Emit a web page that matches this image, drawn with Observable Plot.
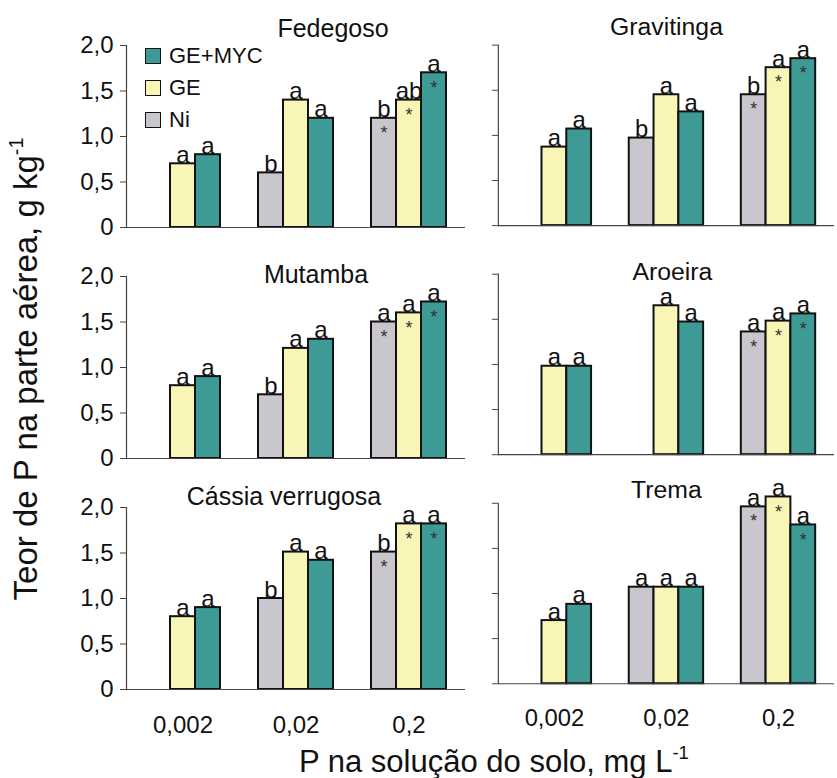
<!DOCTYPE html>
<html>
<head>
<meta charset="utf-8">
<script src="https://cdn.jsdelivr.net/npm/d3@7"></script>
<script src="https://cdn.jsdelivr.net/npm/@observablehq/plot@0.6"></script>
<style>
  body { margin: 0; background: #fff; }
  #chart { position: relative; width: 837px; height: 778px; overflow: hidden; background: #fff;
           font-family: "Liberation Sans", Arial, sans-serif; color: #111; }
  #left, #right { position: absolute; top: 0; }
  #left { left: 0; }
  #right { left: 480px; }
  .ytitle { position: absolute; left: 26px; top: 369px; transform: translate(-50%, -50%) rotate(-90deg);
            white-space: nowrap; font-size: 33px; }
  .xtitle { position: absolute; left: 494px; top: 762px; transform: translate(-50%, -50%);
            white-space: nowrap; font-size: 31px; }
  sup { font-size: 0.6em; vertical-align: 0.7em; line-height: 0; }
  .legend { position: absolute; left: 145px; top: 46px; font-size: 22px; }
  .legend .row { position: absolute; left: 0; display: flex; align-items: center; white-space: nowrap; height: 20px; }
  .legend .sw { width: 14px; height: 14px; border: 1.8px solid #111; margin-right: 8px; }
</style>
</head>
<body>
<div id="chart">
  <div id="left"></div>
  <div id="right"></div>
  <div class="ytitle">Teor de P na parte aérea, g kg<sup>-1</sup></div>
  <div class="xtitle">P na solução do solo, mg L<sup>-1</sup></div>
  <div class="legend" id="legend"></div>
</div>
<script>
// ---------- data ----------
const pLevels = ["0,002", "0,02", "0,2"];
const treatments = ["Ni", "GE", "GE+MYC"];
const legendOrder = ["GE+MYC", "GE", "Ni"];
const leftSpecies = ["Fedegoso", "Mutamba", "Cássia verrugosa"];
const rightSpecies = ["Gravitinga", "Aroeira", "Trema"];
const yTicks = [0, 0.5, 1, 1.5, 2];

// P content (g kg-1): rows = P levels, columns = Ni, GE, GE+MYC (null = no bar)
const fedegoso   = [[null, 0.70, 0.80], [0.60, 1.40, 1.20], [1.20, 1.40, 1.70]];
const gravitinga = [[null, 0.87, 1.07], [0.97, 1.45, 1.26], [1.45, 1.75, 1.85]];
const mutamba    = [[null, 0.80, 0.90], [0.70, 1.21, 1.31], [1.50, 1.60, 1.72]];
const aroeira    = [[null, 0.98, 0.98], [null, 1.65, 1.47], [1.36, 1.48, 1.56]];
const cassia     = [[null, 0.80, 0.90], [1.00, 1.51, 1.42], [1.51, 1.82, 1.82]];
const trema      = [[null, 0.70, 0.88], [1.07, 1.07, 1.07], [1.96, 2.07, 1.76]];

// letters above bars
const fedegosoLetters   = [[null, "a", "a"], ["b", "a", "a"], ["b", "ab", "a"]];
const gravitingaLetters = [[null, "a", "a"], ["b", "a", "a"], ["b", "a", "a"]];
const mutambaLetters    = [[null, "a", "a"], ["b", "a", "a"], ["a", "a", "a"]];
const aroeiraLetters    = [[null, "a", "a"], [null, "a", "a"], ["a", "a", "a"]];
const cassiaLetters     = [[null, "a", "a"], ["b", "a", "a"], ["b", "a", "a"]];
const tremaLetters      = [[null, "a", "a"], ["a", "a", "a"], ["a", "a", "a"]];

// asterisks inside bars (same pattern in every panel)
const asterisks = [[false, false, false], [false, false, false], [true, true, true]];

// ---------- layout / styles ----------
const colors = {"Ni": "#c9c6cd", "GE": "#f8f5b7", "GE+MYC": "#3e9a95"};
const titleOffsets = {
  "Fedegoso": [37, -9], "Mutamba": [20, 6], "Cássia verrugosa": [-12, -3],
  "Gravitinga": [0, -10], "Aroeira": [6, 6], "Trema": [0, -5]
};

const panels = [
  ["Fedegoso", fedegoso, fedegosoLetters],
  ["Gravitinga", gravitinga, gravitingaLetters],
  ["Mutamba", mutamba, mutambaLetters],
  ["Aroeira", aroeira, aroeiraLetters],
  ["Cássia verrugosa", cassia, cassiaLetters],
  ["Trema", trema, tremaLetters]
];

const rows = [];
for (const [sp, vals, lets] of panels) {
  pLevels.forEach((p, i) => treatments.forEach((t, j) => {
    if (vals[i][j] != null) rows.push({species: sp, P: p, treatment: t, value: vals[i][j], letter: lets[i][j], star: asterisks[i][j]});
  }));
}

const fmt = d => d === 0 ? "0" : d.toFixed(1).replace(".", ",");

function column(speciesList, opts) {
  const data = rows.filter(d => speciesList.includes(d.species));
  const titleMarks = speciesList.map(sp => Plot.text([sp], {
    fy: d => d, fx: () => "0,02", text: d => d, frameAnchor: "top", lineAnchor: "bottom",
    dx: titleOffsets[sp][0], dy: titleOffsets[sp][1], fontSize: 25, fill: "#111"
  }));
  return Plot.plot({
    width: opts.width, height: 745,
    marginLeft: opts.marginLeft, marginRight: opts.marginRight, marginTop: 45, marginBottom: 56,
    style: {fontFamily: "'Liberation Sans', Arial, sans-serif", fontSize: "22px", color: "#111", background: "none", overflow: "visible"},
    fx: {domain: pLevels, paddingInner: 0, paddingOuter: 0, axis: null, label: null},
    fy: {domain: speciesList, paddingInner: 0.214, paddingOuter: 0, axis: null, label: null},
    x: {type: "band", domain: treatments, paddingInner: 0, paddingOuter: 0.76, axis: null, label: null},
    y: {domain: [0, 2], axis: null, label: null},
    marks: [
      Plot.barY(data, {fx: "P", fy: "species", x: "treatment", y: "value",
        fill: d => colors[d.treatment], stroke: "#111", strokeWidth: 2}),
      Plot.ruleY([0], {stroke: "#444", strokeWidth: 1.2}),
      Plot.frame({anchor: "left", facetAnchor: "left", stroke: "#444", strokeWidth: 1.2}),
      Plot.axisY({ticks: yTicks, tickFormat: opts.labels ? fmt : () => "", tickSize: 6, tickPadding: 7,
        fontSize: 24, label: null, stroke: "#444"}),
      Plot.axisFx({anchor: "bottom", tickSize: 0, tickPadding: 26, fontSize: 24, label: null}),
      Plot.text(data.filter(d => d.letter), {fx: "P", fy: "species", x: "treatment", y: "value",
        text: "letter", lineAnchor: "bottom", dy: -1, fontSize: 24, fill: "#111"}),
      Plot.text(data.filter(d => d.star), {fx: "P", fy: "species", x: "treatment", y: "value",
        text: () => "*", lineAnchor: "top", dy: 8, fontSize: 18, fill: "#333"}),
      ...titleMarks
    ]
  });
}

document.getElementById("left").append(column(leftSpecies, {width: 480, marginLeft: 126, marginRight: 15, labels: true}));
document.getElementById("right").append(column(rightSpecies, {width: 360, marginLeft: 17, marginRight: 2, labels: false}));

// legend
const legend = d3.select("#legend");
legendOrder.forEach((t, i) => {
  const row = legend.append("div").attr("class", "row").style("top", `${i * 32}px`);
  row.append("div").attr("class", "sw").style("background", colors[t]);
  row.append("span").text(t);
});
</script>
</body>
</html>
